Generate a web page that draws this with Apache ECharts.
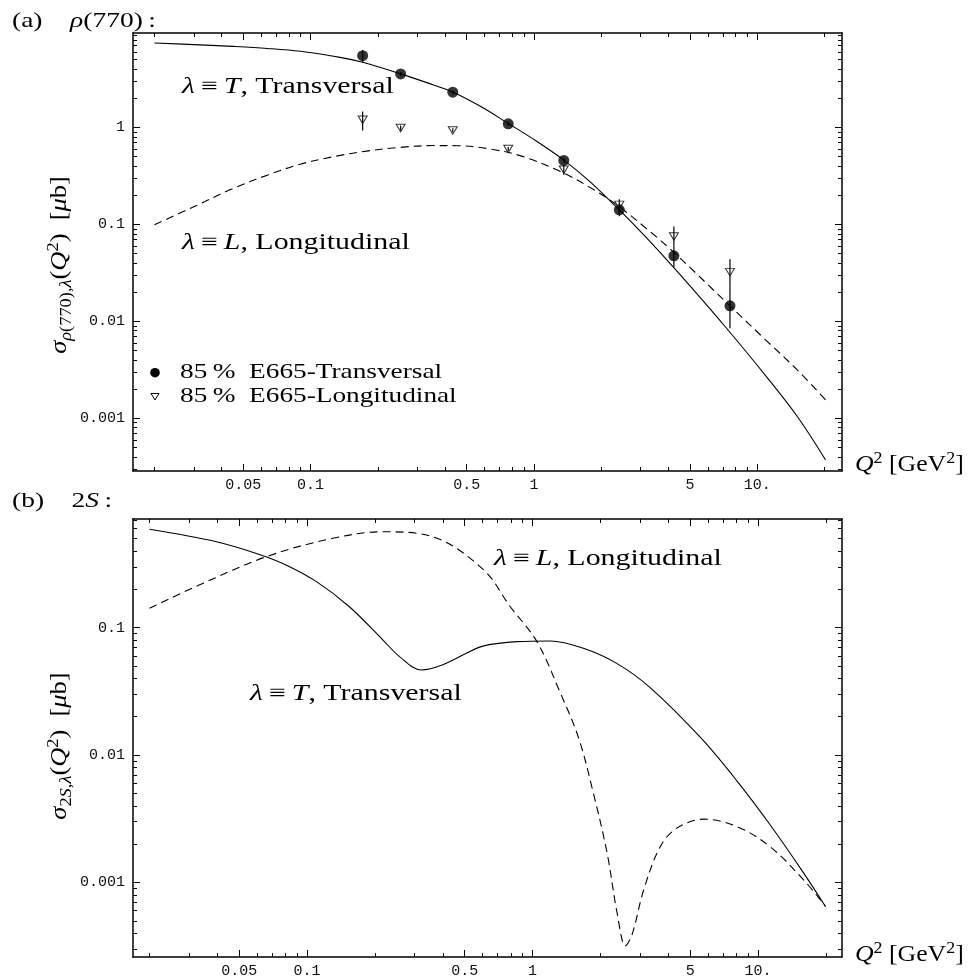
<!DOCTYPE html>
<html><head><meta charset="utf-8">
<script src="https://cdn.jsdelivr.net/npm/echarts@6/dist/echarts.min.js"></script>
<style>html,body{margin:0;padding:0;background:#fff}#c{width:968px;height:979px}</style>
</head><body><div id="c"></div>
<script>
// ---------------- data ----------------
const xTickValues = [0.05, 0.1, 0.5, 1, 5, 10];
const xTickLabels = ['0.05', '0.1', '0.5', '1', '5', '10.'];
const yTickValues = [0.001, 0.01, 0.1, 1];
const yTickLabels = ['0.001', '0.01', '0.1', '1'];

// Panel (a): rho(770)
const qA_T   = [0.02, 0.032, 0.045, 0.064, 0.09, 0.1355, 0.171, 0.253, 0.331, 0.435, 0.573, 0.767, 1.028, 1.36, 1.78, 2.41, 2.98, 3.44, 4.5, 7.03, 11.07, 15.07, 20.2];
const sigA_T = [7.43, 7.10, 6.85, 6.53, 6.10, 5.28, 4.70, 3.57, 2.90, 2.31, 1.66, 1.10, 0.721, 0.460, 0.276, 0.141, 0.0859, 0.0605, 0.0305, 0.00933, 0.00263, 0.00105, 0.000372];
const qA_L   = [0.02, 0.03, 0.045, 0.064, 0.09, 0.13, 0.178, 0.25, 0.354, 0.45, 0.636, 0.895, 1.36, 1.9, 2.4, 3.2, 4.23, 7.5, 11, 15, 20.2];
const sigA_L = [0.099, 0.152, 0.235, 0.322, 0.418, 0.505, 0.570, 0.622, 0.650, 0.648, 0.600, 0.500, 0.338, 0.22, 0.153, 0.090, 0.0515, 0.0146, 0.0063, 0.0032, 0.00155];

// E665 data (85 %)
const qE665        = [0.171, 0.253, 0.433, 0.767, 1.36, 2.41, 4.23, 7.54];
const sigE665_T    = [5.5, 3.56, 2.31, 1.09, 0.457, 0.1415, 0.0474, 0.01445];
const sigE665_T_lo = [4.7, 3.4, 2.2, 1.04, 0.43, 0.133, 0.0362, 0.0085];
const sigE665_T_hi = [6.3, 3.72, 2.4, 1.14, 0.485, 0.15, 0.0601, 0.0229];
const sigE665_L    = [1.20, 0.986, 0.931, 0.599, 0.366, 0.159, 0.075, 0.0322];
const sigE665_L_lo = [0.931, 0.93, 0.89, 0.57, 0.325, 0.121, 0.0601, 0.0229];
const sigE665_L_hi = [1.46, 1.05, 0.98, 0.63, 0.41, 0.182, 0.0951, 0.0438];

// Panel (b): 2S
const qB_T   = [0.02, 0.0396, 0.0614, 0.0806, 0.110, 0.154, 0.217, 0.257, 0.321, 0.400, 0.508, 0.607, 0.852, 1.20, 1.68, 2.37, 3.33, 5.55, 8.05, 11.3, 15.9, 19.9];
const sigB_T = [0.592, 0.473, 0.376, 0.311, 0.230, 0.146, 0.080, 0.0593, 0.0466, 0.0512, 0.0630, 0.0720, 0.0777, 0.0787, 0.0689, 0.0522, 0.0337, 0.01374, 0.00628, 0.00284, 0.00119, 0.000647];
const qB_L   = [0.02, 0.0332, 0.066, 0.130, 0.217, 0.361, 0.607, 0.796, 1.045, 1.33, 1.60, 1.86, 2.14, 2.37, 2.58, 2.76, 3.11, 3.68, 4.36, 5.74, 8.05, 11.3, 15.9, 19.9];
const sigB_L = [0.142, 0.216, 0.361, 0.503, 0.566, 0.517, 0.284, 0.146, 0.0777, 0.0305, 0.0136, 0.00502, 0.0017, 0.000575, 0.000318, 0.000389, 0.000877, 0.00191, 0.00267, 0.00314, 0.00275, 0.00191, 0.00105, 0.000649];

// ---------------- helpers ----------------
function zip(a, b) { return a.map((v, i) => [v, b[i]]); }
function minorTicks(lo, hi) {
  const out = [];
  for (let e = -5; e <= 2; e++) for (let m = 2; m <= 9; m++) {
    const v = +(m * Math.pow(10, e)).toPrecision(6);
    if (v >= lo && v <= hi) out.push(v);
  }
  return out;
}
function fmt(values, labels) {
  return v => {
    for (let i = 0; i < values.length; i++) if (Math.abs(Math.log10(v / values[i])) < 1e-6) return labels[i];
    return '';
  };
}
const BLACK = '#000';
const labelStyle = { fontFamily: 'Liberation Mono', fontSize: 15, color: '#111' };
const lineSt = { color: BLACK, width: 1.5 };
const tickSt = { color: BLACK, width: 1 };

function makeAxes(dim, grid, min, max, majors, labels) {
  const minors = minorTicks(min, max);
  const base = { type: 'log', logBase: 10, gridIndex: grid, min: min, max: max,
    splitLine: { show: false }, axisLine: { show: false }, axisTick: { show: false }, axisLabel: { show: false } };
  const p1 = dim === 'x' ? 'bottom' : 'left', p2 = dim === 'x' ? 'top' : 'right';
  return [
    Object.assign({}, base, { position: p1, axisLine: { show: true, lineStyle: lineSt },
      axisTick: { show: true, inside: true, length: 7, customValues: majors, lineStyle: tickSt },
      axisLabel: Object.assign({ show: true, customValues: majors, formatter: fmt(majors, labels), margin: dim === 'x' ? 7 : 8 }, labelStyle) }),
    Object.assign({}, base, { position: p1, axisTick: { show: true, inside: true, length: 4, customValues: minors, lineStyle: tickSt } }),
    Object.assign({}, base, { position: p2, axisLine: { show: true, lineStyle: lineSt },
      axisTick: { show: true, inside: true, length: 7, customValues: majors, lineStyle: tickSt } }),
    Object.assign({}, base, { position: p2, axisTick: { show: true, inside: true, length: 4, customValues: minors, lineStyle: tickSt } })
  ];
}

const xAxes = makeAxes('x', 0, 0.01603, 23.93, xTickValues, xTickLabels)
  .concat(makeAxes('x', 1, 0.0169, 23.55, xTickValues, xTickLabels));
const yAxes = makeAxes('y', 0, 0.000286, 9.42, yTickValues, yTickLabels)
  .concat(makeAxes('y', 1, 0.00026, 0.713, yTickValues, yTickLabels));

function curve(name, q, s, ax, dashed) {
  return { name: name, type: 'line', xAxisIndex: ax, yAxisIndex: ax, data: zip(q, s), showSymbol: false, symbol: 'none',
    smooth: 0.35, lineStyle: { color: BLACK, width: 1.1, type: dashed ? [8, 5] : 'solid' }, z: 2, silent: true };
}
function errBars(q, lo, hi, ax) {
  return { type: 'custom', xAxisIndex: ax, yAxisIndex: ax, z: 5, silent: true,
    data: q.map((v, i) => [v, lo[i], hi[i]]), encode: { x: 0, y: [1, 2] },
    renderItem: (params, api) => {
      const a = api.coord([api.value(0), api.value(1)]);
      const b = api.coord([api.value(0), api.value(2)]);
      return { type: 'line', shape: { x1: a[0], y1: a[1], x2: b[0], y2: b[1] }, style: { stroke: BLACK, lineWidth: 1.2 } };
    } };
}

// ---------------- text ----------------
const SERIF = 'Liberation Serif';
function richFor(fs) {
  const lh = Math.round(fs * 1.25), sfs = Math.round(fs * 0.7), slh = Math.round(fs * 0.85);
  return {
    n: { fontFamily: SERIF, fontSize: fs, fill: BLACK, lineHeight: lh },
    i: { fontFamily: SERIF, fontSize: fs, fontStyle: 'italic', fill: BLACK, lineHeight: lh },
    sub: { fontFamily: SERIF, fontSize: sfs, fill: BLACK, verticalAlign: 'bottom', lineHeight: slh },
    subi: { fontFamily: SERIF, fontSize: sfs, fontStyle: 'italic', fill: BLACK, verticalAlign: 'bottom', lineHeight: slh },
    sup: { fontFamily: SERIF, fontSize: sfs, fill: BLACK, verticalAlign: 'top', lineHeight: slh }
  };
}
function txt(x, y, text, opt) {
  opt = opt || {};
  const fs = opt.fs || 23;
  return { type: 'text', x: x, y: y, scaleX: opt.sx || 1.3, rotation: opt.rot || 0, silent: true, z: 100,
    style: { text: text, rich: richFor(fs), fill: BLACK, align: opt.align || 'left', verticalAlign: 'middle',
      textAlign: opt.align || 'left', textVerticalAlign: 'middle', fontFamily: SERIF, fontSize: fs } };
}
const graphics = [
  txt(12, 21, '{n|(a)    }{i|ρ}{n|(770)\u2009:}', { fs: 22, sx: 1.25 }),
  txt(12, 501, '{n|(b)    2}{i|S}{n|\u2009:}', { fs: 22, sx: 1.25 }),
  txt(182, 87, '{i|λ}{n|\u2009≡\u2009}{i|T}{n|, Transversal}'),
  txt(182, 243, '{i|λ}{n|\u2009≡\u2009}{i|L}{n|, Longitudinal}'),
  txt(180, 372, '{n|85\u2009%  E665-Transversal}', { fs: 22, sx: 1.24 }),
  txt(180, 396, '{n|85\u2009%  E665-Longitudinal}', { fs: 22, sx: 1.24 }),
  txt(494, 559, '{i|λ}{n|\u2009≡\u2009}{i|L}{n|, Longitudinal}'),
  txt(250, 694, '{i|λ}{n|\u2009≡\u2009}{i|T}{n|, Transversal}'),
  txt(855, 465, '{i|Q}{sup|2}{n| [GeV}{sup|2}{n|]}', { fs: 23, sx: 1.12 }),
  txt(855, 955, '{i|Q}{sup|2}{n| [GeV}{sup|2}{n|]}', { fs: 23, sx: 1.12 }),
  txt(60, 265, '{i|σ}{subi|ρ}{sub|(770),}{subi|λ}{n|(}{i|Q}{sup|2}{n|)  [}{i|μ}{n|b]}', { rot: Math.PI / 2, align: 'center', sx: 1.15, fs: 23 }),
  txt(60, 746, '{i|σ}{sub|2}{subi|S}{sub|,}{subi|λ}{n|(}{i|Q}{sup|2}{n|)  [}{i|μ}{n|b]}', { rot: Math.PI / 2, align: 'center', sx: 1.15, fs: 23 }),
  { type: 'circle', shape: { cx: 155, cy: 372.7, r: 4.8 }, style: { fill: BLACK }, silent: true },
  { type: 'polygon', shape: { points: [[151, 393.5], [159, 393.5], [155, 400]] }, style: { fill: '#fff', stroke: BLACK, lineWidth: 1 }, silent: true }
];

const option = {
  animation: false,
  backgroundColor: '#fff',
  grid: [
    { left: 133, top: 33, width: 709, height: 438 },
    { left: 133, top: 519, width: 709, height: 438 }
  ],
  xAxis: xAxes,
  yAxis: yAxes,
  graphic: graphics,
  series: [
    curve('T (a)', qA_T, sigA_T, 0, false),
    curve('L (a)', qA_L, sigA_L, 0, true),
    { name: '85 % E665-Longitudinal', type: 'scatter', xAxisIndex: 0, yAxisIndex: 0, data: zip(qE665, sigE665_L),
      symbol: 'path://M0,0L10,0L5,8Z', symbolSize: [9, 7.5], itemStyle: { color: '#fff', borderColor: BLACK, borderWidth: 1 }, z: 3, silent: true },
    errBars(qE665, sigE665_L_lo, sigE665_L_hi, 0),
    errBars(qE665, sigE665_T_lo, sigE665_T_hi, 0),
    { name: '85 % E665-Transversal', type: 'scatter', xAxisIndex: 0, yAxisIndex: 0, data: zip(qE665, sigE665_T),
      symbol: 'circle', symbolSize: 11, itemStyle: { color: BLACK }, z: 6, silent: true },
    curve('T (b)', qB_T, sigB_T, 4, false),
    curve('L (b)', qB_L, sigB_L, 4, true)
  ]
};
const chart = echarts.init(document.getElementById('c'), null, { renderer: 'canvas' });
chart.setOption(option);
</script>
</body></html>
